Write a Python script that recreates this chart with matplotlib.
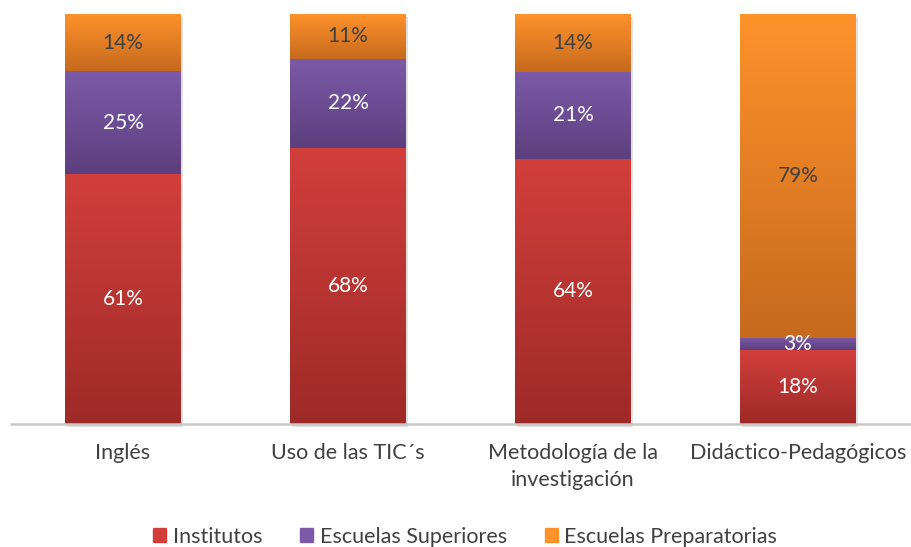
import matplotlib
matplotlib.use("Agg")
import matplotlib.pyplot as plt
import numpy as np
from matplotlib.colors import LinearSegmentedColormap
from matplotlib.patches import Rectangle

categories = ["Inglés", "Uso de las TIC´s", "Metodología de la\ninvestigación", "Didáctico-Pedagógicos"]
series_names = ["Institutos", "Escuelas Superiores", "Escuelas Preparatorias"]
institutos = [61, 68, 64, 18]
superiores = [25, 22, 21, 3]
preparatorias = [14, 11, 14, 79]

colors_top = ["#D23F3B", "#7C5AA8", "#FF922B"]
colors_bot = ["#9E2A28", "#5C3F7E", "#C66A1E"]
label_colors = ["white", "white", "#404040"]

plt.rcParams['font.family'] = ['Lato', 'DejaVu Sans']
FS = 15.5

fig = plt.figure(figsize=(9.12, 5.47), dpi=100)
# axes: x pixel 0..912, y pixel 14..424 (from top)
ax = fig.add_axes([0, (547 - 424) / 547, 1, (424 - 14) / 547])
W = 225.0
xmin = -123 / W
xmax = (912 - 123) / W
ax.set_xlim(xmin, xmax)
ax.set_ylim(0, 100)
for s in ax.spines.values():
    s.set_visible(False)
ax.set_yticks([])
ax.set_xticks([])

bar_w = 116 / W
x = np.arange(len(categories))
series = [np.array(institutos, float), np.array(superiores, float), np.array(preparatorias, float)]
totals = sum(series)
# 100% stacked: heights are shares of each column's total
shares = [s / totals * 100 for s in series]

grad = np.linspace(1, 0, 256).reshape(-1, 1)
bottoms = np.zeros(len(categories))
for si, vals in enumerate(shares):
    cmap = LinearSegmentedColormap.from_list("g%d" % si, [colors_bot[si], colors_top[si]])
    bars = ax.bar(x, vals, bar_w, bottom=bottoms, color=colors_top[si], zorder=2,
                  linewidth=0, label=series_names[si])
    for xi, (b, v, bot) in enumerate(zip(bars, vals, bottoms)):
        x0 = xi - bar_w / 2
        im = ax.imshow(grad, cmap=cmap, aspect='auto', extent=[x0, x0 + bar_w, bot, bot + v],
                       zorder=3, interpolation='bilinear')
        im.set_clip_path(b)
        ax.text(xi, bot + v / 2, "%d%%" % int(series[si][xi]), ha='center', va='center',
                fontsize=15, color=label_colors[si], zorder=5)
    bottoms = bottoms + vals

# subtle shadow behind bars
for xi, tot in enumerate(bottoms):
    ax.add_patch(Rectangle((xi - bar_w / 2 + 0.01, -0.8), bar_w, tot, color='#000000', alpha=0.12,
                           zorder=1, linewidth=0, clip_on=False))

# axis line
ax.plot([10 / W + xmin, xmax], [0, 0], color='#C8C8C8', linewidth=1.8, zorder=4, clip_on=False,
        solid_capstyle='butt')

ax.set_ylim(0, 100)
ax.set_xlim(xmin, xmax)

# category labels
for xi, c in enumerate(categories):
    fig.text((123 + xi * W) / 912, 1 - 443 / 547, c, ha='center', va='top', fontsize=FS,
             color='#404040', linespacing=1.45)

handles = [Rectangle((0, 0), 1, 1, color=colors_top[i]) for i in range(3)]
leg = fig.legend(handles, series_names, loc='center', bbox_to_anchor=(0.51, 1 - 537 / 547),
                 ncol=3, frameon=False, fontsize=FS, handlelength=0.62, handleheight=0.62,
                 handletextpad=0.3, columnspacing=1.75, labelcolor='#404040', borderaxespad=0)

fig.savefig("out.png", dpi=100)
